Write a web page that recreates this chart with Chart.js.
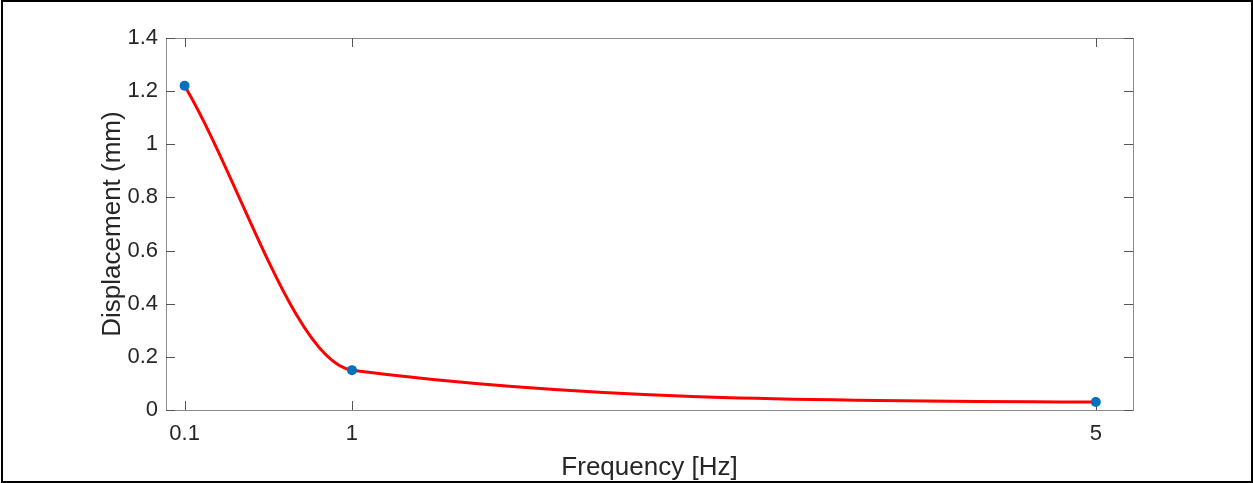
<!DOCTYPE html>
<html><head><meta charset="utf-8">
<script src="https://cdn.jsdelivr.net/npm/chart.js@4.4.1/dist/chart.umd.min.js"></script>
<style>
html,body{margin:0;padding:0;background:#fff;}
#wrap{position:relative;width:1253px;height:483px;overflow:hidden;}
#frame{position:absolute;left:1px;top:0;width:1252px;height:483px;box-sizing:border-box;border:2px solid #000;pointer-events:none;}
canvas{display:block;}
</style></head><body>
<div id="wrap"><canvas id="c" width="1253" height="483"></canvas><div id="frame"></div></div>
<script>
const frequencies = [0.1, 1, 5];
const displacement = [1.22, 0.15, 0.03];
const xTicks = [0.1, 1, 5];
const yTicks = [0, 0.2, 0.4, 0.6, 0.8, 1, 1.2, 1.4];
const xTitle = 'Frequency [Hz]';
const yTitle = 'Displacement (mm)';

const points = frequencies.map((f, i) => ({x: f, y: displacement[i]}));
const FONT = '"Liberation Sans", Arial, Helvetica, sans-serif';

const frameTicks = {
  id: 'frameTicks',
  beforeDatasetsDraw(chart) {
    const {ctx, chartArea: a, scales: {x, y}} = chart;
    ctx.save();
    ctx.strokeStyle = '#8c8c8c';
    ctx.lineWidth = 1;
    ctx.strokeRect(Math.round(a.left) + 0.5, Math.round(a.top) + 0.5,
                   Math.round(a.right - a.left), Math.round(a.bottom - a.top));
    ctx.strokeStyle = '#555';
    const L = 9;
    ctx.beginPath();
    x.ticks.forEach(t => {
      const px = Math.round(x.getPixelForValue(t.value)) + 0.5;
      ctx.moveTo(px, a.bottom); ctx.lineTo(px, a.bottom - L);
      ctx.moveTo(px, a.top); ctx.lineTo(px, a.top + L);
    });
    y.ticks.forEach(t => {
      const py = Math.round(y.getPixelForValue(t.value)) + 0.5;
      ctx.moveTo(a.left, py); ctx.lineTo(a.left + L, py);
      ctx.moveTo(a.right, py); ctx.lineTo(a.right - L, py);
    });
    ctx.stroke();
    ctx.restore();
  }
};

new Chart(document.getElementById('c'), {
  type: 'line',
  data: {
    datasets: [
      {
        data: points,
        showLine: false,
        pointRadius: 5,
        pointBackgroundColor: '#0072BD',
        pointBorderColor: '#0072BD',
        pointBorderWidth: 0,
        order: 0,
        clip: false
      },
      {
        data: points,
        borderColor: '#FF0000',
        borderWidth: 3,
        pointRadius: 0,
        cubicInterpolationMode: 'monotone',
        fill: false,
        order: 1,
        clip: false
      }
    ]
  },
  options: {
    responsive: false,
    animation: false,
    devicePixelRatio: 1,
    layout: {padding: {left: 97, top: 38, right: 120, bottom: 0}},
    plugins: {legend: {display: false}, tooltip: {enabled: false}},
    scales: {
      x: {
        type: 'linear',
        min: 0, max: 5.2,
        grid: {display: false, drawTicks: false},
        border: {display: false},
        afterBuildTicks: s => { s.ticks = xTicks.map(v => ({value: v})); },
        afterFit: s => { s.height = 73; },
        ticks: {
          padding: 11,
          color: '#262626',
          font: {family: FONT, size: 22},
          callback: v => String(v)
        },
        title: {
          display: true, text: xTitle, color: '#262626',
          font: {family: FONT, size: 26}, padding: {top: 0, bottom: 0}
        }
      },
      y: {
        type: 'linear',
        min: 0, max: 1.4,
        grid: {display: false, drawTicks: false},
        border: {display: false},
        afterBuildTicks: s => { s.ticks = yTicks.map(v => ({value: v})); },
        afterFit: s => { s.width = 69; },
        ticks: {
          padding: 8,
          color: '#262626',
          font: {family: FONT, size: 22},
          callback: v => String(v)
        },
        title: {
          display: true, text: yTitle, color: '#262626',
          font: {family: FONT, size: 26}, padding: {top: 0, bottom: 0}
        }
      }
    }
  },
  plugins: [frameTicks]
});
</script>
</body></html>
